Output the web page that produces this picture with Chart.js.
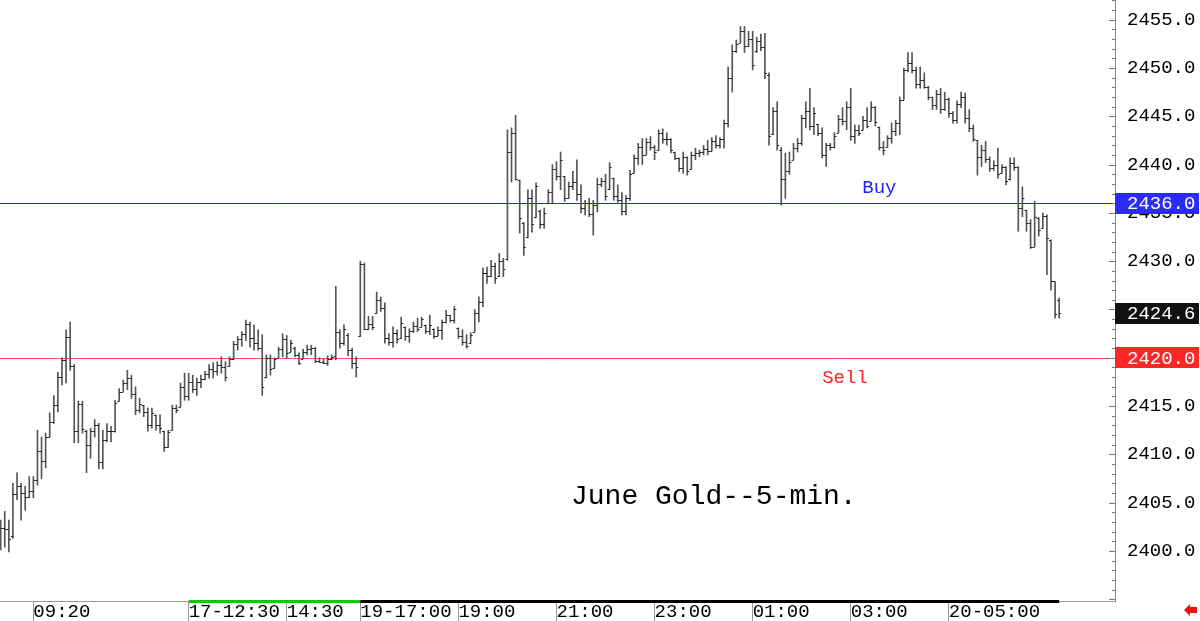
<!DOCTYPE html>
<html lang="en">
<head>
    <meta charset="UTF-8">
    <title>June Gold 5-min</title>
    <script src="https://cdn.jsdelivr.net/npm/chart.js"></script>
    <style>
        html, body {
            margin: 0;
            padding: 0;
            background-color: #fff;
        }

        #chart-container {
            width: 1200px;
            height: 621px;
        }
    </style>
</head>
<body>
    <div id="chart-container">
        <canvas id="gold-chart" width="1200" height="621"></canvas>
    </div>

    <script>
        // 5-minute OHLC bars, index 0 is the first bar on the left
        var highs = [
            2403.2, 2404.1, 2403.2, 2407.0, 2408.1, 2407.0, 2406.7, 2407.7, 2407.7, 2412.5,
            2411.8, 2412.2, 2414.3, 2416.1, 2418.5, 2420.0, 2422.9, 2423.7, 2419.3, 2415.5,
            2415.5, 2412.5, 2412.7, 2413.6, 2413.2, 2412.5, 2413.2, 2412.9, 2415.6, 2416.8,
            2417.7, 2418.7, 2418.2, 2417.0, 2415.8, 2415.1, 2414.8, 2414.8, 2414.1, 2414.1,
            2412.4, 2412.5, 2415.1, 2415.1, 2417.4, 2418.4, 2418.4, 2418.2, 2417.9, 2418.2,
            2418.6, 2419.3, 2419.5, 2419.6, 2420.1, 2419.6, 2420.1, 2421.7, 2422.2, 2422.7,
            2423.9, 2423.7, 2423.4, 2422.9, 2422.4, 2420.3, 2420.3, 2420.0, 2421.1, 2422.5,
            2422.3, 2421.8, 2421.1, 2420.5, 2420.9, 2421.3, 2421.3, 2421.1, 2420.0, 2419.9,
            2420.2, 2420.3, 2427.4, 2422.9, 2423.4, 2422.5, 2421.0, 2420.1, 2430.0, 2429.8,
            2424.3, 2424.3, 2426.8, 2426.3, 2425.7, 2422.5, 2423.2, 2422.9, 2424.2, 2423.2,
            2423.0, 2423.7, 2424.1, 2424.2, 2423.4, 2424.4, 2423.0, 2423.2, 2423.9, 2424.9,
            2424.4, 2425.3, 2423.1, 2422.9, 2422.4, 2422.6, 2425.0, 2426.3, 2429.3, 2429.4,
            2430.1, 2429.8, 2430.8, 2430.3, 2443.6, 2443.8, 2445.1, 2438.4, 2434.0, 2437.4,
            2437.4, 2438.1, 2435.3, 2435.5, 2437.4, 2440.0, 2440.3, 2441.3, 2438.8, 2438.2,
            2439.3, 2440.5, 2437.9, 2436.3, 2436.5, 2436.3, 2438.6, 2438.6, 2439.0, 2440.2,
            2438.6, 2437.9, 2437.1, 2436.8, 2439.4, 2441.0, 2442.2, 2442.7, 2442.7, 2442.9,
            2442.0, 2443.6, 2443.7, 2443.3, 2442.7, 2441.3, 2440.7, 2441.3, 2440.8, 2441.3,
            2441.7, 2441.5, 2442.0, 2442.5, 2442.8, 2443.0, 2442.8, 2444.6, 2450.1, 2452.4,
            2452.9, 2454.3, 2454.3, 2453.8, 2453.8, 2453.2, 2453.5, 2453.6, 2449.5, 2445.9,
            2446.5, 2441.8, 2441.2, 2441.3, 2442.2, 2442.7, 2445.1, 2446.5, 2447.9, 2445.9,
            2444.2, 2443.8, 2442.2, 2442.2, 2443.3, 2445.1, 2445.9, 2446.5, 2447.9, 2444.1,
            2444.1, 2445.0, 2445.9, 2446.5, 2446.0, 2443.9, 2442.4, 2443.0, 2444.3, 2444.6,
            2447.0, 2450.0, 2451.6, 2451.6, 2450.1, 2450.1, 2449.5, 2448.1, 2447.0, 2447.7,
            2447.9, 2447.5, 2446.9, 2445.5, 2446.6, 2447.5, 2447.4, 2445.7, 2444.1, 2442.5,
            2442.0, 2442.4, 2440.8, 2440.4, 2441.7, 2440.0, 2439.8, 2440.7, 2440.7, 2439.8,
            2437.7, 2435.3, 2434.3, 2436.2, 2434.5, 2435.0, 2434.8, 2432.2, 2427.9, 2426.2
        ];
        var lows = [
            2400.1, 2400.4, 2399.9, 2401.3, 2405.3, 2403.2, 2404.2, 2405.5, 2405.5, 2406.8,
            2407.5, 2408.6, 2411.8, 2413.2, 2414.4, 2417.2, 2417.4, 2418.7, 2411.2, 2411.2,
            2412.2, 2408.1, 2409.6, 2411.8, 2408.5, 2408.5, 2411.3, 2411.3, 2412.3, 2415.5,
            2416.5, 2416.7, 2415.8, 2414.1, 2414.3, 2413.9, 2412.4, 2412.7, 2412.5, 2412.2,
            2410.3, 2410.7, 2412.5, 2414.3, 2414.9, 2415.6, 2415.6, 2416.4, 2416.1, 2416.9,
            2417.7, 2417.9, 2417.9, 2418.2, 2418.4, 2417.6, 2419.1, 2419.8, 2420.8, 2421.2,
            2421.8, 2421.1, 2420.8, 2420.8, 2416.1, 2417.9, 2418.2, 2418.9, 2420.0, 2420.1,
            2420.0, 2420.6, 2420.1, 2419.3, 2419.9, 2420.3, 2420.3, 2419.5, 2419.5, 2419.4,
            2419.2, 2419.8, 2419.8, 2421.0, 2421.3, 2420.2, 2418.9, 2418.0, 2422.2, 2422.9,
            2422.9, 2422.9, 2424.6, 2424.8, 2421.5, 2421.3, 2421.1, 2421.5, 2422.0, 2421.8,
            2421.6, 2422.6, 2422.7, 2423.2, 2422.5, 2422.4, 2422.0, 2422.3, 2421.9, 2423.6,
            2423.7, 2423.6, 2422.0, 2421.3, 2421.0, 2421.5, 2422.7, 2423.7, 2425.3, 2427.7,
            2428.4, 2427.7, 2428.4, 2428.4, 2430.1, 2438.2, 2438.4, 2432.9, 2430.6, 2432.4,
            2433.0, 2434.5, 2433.4, 2433.4, 2436.0, 2436.0, 2438.4, 2437.4, 2436.2, 2436.5,
            2437.4, 2436.3, 2435.0, 2434.8, 2434.6, 2432.7, 2435.1, 2437.7, 2436.3, 2437.4,
            2436.3, 2436.1, 2434.8, 2434.8, 2436.3, 2439.1, 2440.0, 2440.0, 2441.0, 2441.5,
            2440.5, 2441.5, 2442.2, 2442.0, 2441.2, 2440.5, 2439.3, 2439.1, 2438.9, 2439.5,
            2440.5, 2440.8, 2441.0, 2441.0, 2441.4, 2441.7, 2441.7, 2441.7, 2443.9, 2447.5,
            2451.6, 2452.6, 2451.6, 2452.2, 2449.8, 2451.6, 2451.8, 2448.9, 2442.0, 2443.1,
            2441.5, 2435.8, 2436.5, 2439.0, 2440.5, 2441.3, 2442.0, 2443.8, 2443.6, 2443.1,
            2443.0, 2440.7, 2439.8, 2441.5, 2441.7, 2443.3, 2444.1, 2443.6, 2442.5, 2442.2,
            2443.0, 2443.6, 2443.8, 2444.5, 2444.0, 2441.5, 2441.0, 2441.8, 2442.2, 2443.0,
            2443.1, 2446.7, 2449.6, 2449.5, 2447.9, 2447.9, 2447.9, 2446.7, 2445.7, 2445.7,
            2445.3, 2445.6, 2444.9, 2444.3, 2444.3, 2445.9, 2444.3, 2443.4, 2442.4, 2438.9,
            2439.8, 2440.2, 2439.3, 2439.4, 2438.6, 2439.1, 2437.9, 2438.4, 2439.4, 2433.1,
            2434.6, 2433.1, 2431.3, 2431.5, 2432.6, 2433.4, 2428.6, 2427.0, 2424.1, 2424.1
        ];
        var opens = [
            2402.0, 2402.4, 2402.3, 2401.5, 2405.9, 2406.7, 2406.0, 2405.6, 2406.2, 2407.3,
            2410.4, 2409.3, 2411.8, 2413.4, 2415.1, 2418.0, 2419.8, 2422.2, 2419.2, 2412.4,
            2415.2, 2412.4, 2411.0, 2412.4, 2413.0, 2409.2, 2411.5, 2412.4, 2412.4, 2415.5,
            2416.5, 2417.4, 2417.9, 2416.2, 2414.6, 2415.1, 2414.4, 2413.0, 2414.1, 2413.0,
            2412.4, 2410.8, 2412.5, 2414.8, 2414.9, 2417.0, 2416.0, 2417.5, 2416.8, 2417.5,
            2417.8, 2418.3, 2418.8, 2418.6, 2419.3, 2419.0, 2419.2, 2419.9, 2421.4, 2421.9,
            2422.5, 2423.5, 2422.0, 2421.5, 2421.0, 2418.0, 2420.0, 2418.9, 2420.0, 2420.9,
            2421.9, 2420.6, 2421.0, 2420.3, 2419.9, 2420.6, 2420.9, 2421.0, 2419.7, 2419.6,
            2419.5, 2419.9, 2420.2, 2422.7, 2421.5, 2422.4, 2420.8, 2419.5, 2422.3, 2429.7,
            2423.0, 2423.5, 2424.6, 2426.0, 2425.2, 2422.0, 2421.6, 2422.6, 2422.0, 2423.2,
            2422.3, 2422.8, 2423.3, 2423.2, 2423.4, 2422.8, 2423.0, 2422.3, 2422.9, 2423.7,
            2424.4, 2423.9, 2423.1, 2422.3, 2421.6, 2421.5, 2422.7, 2424.6, 2425.8, 2428.8,
            2428.5, 2429.5, 2428.5, 2430.0, 2430.2, 2441.3, 2443.3, 2438.4, 2434.0, 2432.5,
            2436.5, 2434.6, 2435.2, 2433.8, 2436.0, 2437.2, 2439.5, 2438.8, 2438.8, 2436.5,
            2437.8, 2438.2, 2437.0, 2435.5, 2436.0, 2434.9, 2435.8, 2438.0, 2438.3, 2437.5,
            2438.6, 2436.8, 2436.3, 2435.2, 2436.5, 2439.1, 2440.7, 2441.8, 2441.0, 2442.3,
            2441.8, 2441.5, 2443.3, 2442.6, 2442.7, 2441.3, 2440.7, 2439.6, 2440.8, 2439.5,
            2441.0, 2441.2, 2441.3, 2441.6, 2441.4, 2442.4, 2442.0, 2442.6, 2444.3, 2449.0,
            2451.8, 2452.6, 2453.8, 2452.3, 2453.0, 2451.8, 2452.8, 2452.2, 2449.3, 2443.2,
            2445.5, 2441.5, 2438.5, 2439.3, 2440.5, 2441.7, 2442.2, 2444.8, 2445.5, 2444.0,
            2444.2, 2443.3, 2441.0, 2442.0, 2441.8, 2443.3, 2444.7, 2444.5, 2446.0, 2443.0,
            2443.6, 2443.6, 2444.6, 2444.5, 2446.0, 2443.9, 2441.8, 2441.8, 2442.8, 2443.5,
            2444.3, 2446.7, 2449.8, 2450.5, 2449.8, 2448.3, 2448.8, 2448.0, 2447.0, 2446.2,
            2447.3, 2445.8, 2446.8, 2445.3, 2444.6, 2446.3, 2447.0, 2444.8, 2443.8, 2442.5,
            2440.8, 2441.5, 2440.6, 2439.6, 2440.0, 2439.1, 2439.8, 2438.5, 2440.2, 2439.8,
            2435.5, 2435.3, 2434.0, 2431.5, 2434.5, 2433.4, 2434.7, 2432.2, 2427.9, 2426.0
        ];
        var closes = [
            2402.4, 2402.3, 2401.2, 2405.9, 2406.7, 2406.0, 2405.6, 2406.2, 2407.3, 2410.4,
            2409.3, 2411.8, 2413.4, 2415.1, 2418.0, 2419.8, 2422.2, 2419.2, 2412.4, 2415.2,
            2412.6, 2411.0, 2412.4, 2413.0, 2409.2, 2411.5, 2412.4, 2412.4, 2415.3, 2416.5,
            2417.4, 2417.9, 2416.2, 2414.6, 2415.2, 2414.4, 2413.0, 2414.3, 2413.0, 2412.7,
            2410.8, 2412.3, 2414.8, 2414.6, 2417.0, 2416.0, 2417.5, 2416.8, 2417.5, 2417.8,
            2418.3, 2418.8, 2418.6, 2419.3, 2419.0, 2418.0, 2419.9, 2421.4, 2421.9, 2422.5,
            2423.5, 2422.0, 2421.5, 2421.0, 2417.0, 2420.0, 2418.8, 2419.9, 2420.9, 2421.9,
            2420.5, 2421.5, 2420.3, 2419.5, 2420.6, 2420.9, 2421.0, 2419.7, 2419.6, 2419.5,
            2419.9, 2420.1, 2422.7, 2421.5, 2423.0, 2420.8, 2419.5, 2419.0, 2429.7, 2423.0,
            2423.5, 2423.2, 2426.0, 2425.2, 2422.0, 2421.6, 2422.6, 2421.9, 2423.6, 2422.3,
            2422.8, 2423.3, 2423.0, 2424.0, 2422.8, 2423.4, 2422.3, 2422.9, 2423.7, 2424.4,
            2423.9, 2425.0, 2422.3, 2421.6, 2421.2, 2422.4, 2424.6, 2425.8, 2428.8, 2428.5,
            2429.5, 2428.3, 2430.0, 2429.2, 2441.3, 2443.3, 2438.5, 2434.5, 2431.5, 2436.5,
            2433.8, 2437.8, 2433.8, 2435.0, 2437.2, 2439.5, 2438.8, 2440.5, 2436.5, 2437.8,
            2438.2, 2437.0, 2435.5, 2436.0, 2434.9, 2435.8, 2438.0, 2438.3, 2436.8, 2439.8,
            2436.8, 2436.3, 2435.2, 2436.5, 2439.0, 2440.7, 2441.8, 2441.0, 2442.3, 2441.8,
            2441.3, 2443.3, 2442.6, 2442.7, 2441.5, 2440.7, 2439.6, 2440.8, 2439.3, 2441.0,
            2441.2, 2441.3, 2441.6, 2441.4, 2442.4, 2442.0, 2442.6, 2444.3, 2449.0, 2451.8,
            2452.5, 2453.8, 2452.3, 2453.0, 2450.3, 2452.8, 2452.2, 2449.5, 2443.0, 2445.5,
            2442.0, 2438.5, 2439.3, 2440.3, 2441.7, 2442.2, 2444.8, 2445.5, 2444.0, 2445.3,
            2443.3, 2441.0, 2442.0, 2441.8, 2443.0, 2444.7, 2444.5, 2446.0, 2443.0, 2443.6,
            2443.3, 2444.6, 2444.0, 2446.0, 2444.4, 2441.8, 2441.5, 2442.8, 2443.5, 2444.3,
            2446.7, 2449.8, 2450.5, 2449.8, 2448.3, 2448.8, 2448.0, 2447.0, 2446.2, 2447.3,
            2445.8, 2446.8, 2445.3, 2444.6, 2446.3, 2447.0, 2444.8, 2443.8, 2442.7, 2440.8,
            2441.5, 2440.6, 2439.6, 2440.0, 2439.0, 2439.8, 2438.3, 2440.2, 2439.8, 2435.5,
            2436.5, 2434.0, 2431.5, 2434.6, 2433.2, 2434.7, 2432.4, 2427.9, 2424.5, 2424.6
        ];

        // time labels on the bottom axis and the bar they sit on
        var tickIdx = [8, 46, 70, 88, 112, 136, 160, 184, 208, 232];
        var tickText = ['09:20', '17-12:30', '14:30', '19-17:00', '19:00', '21:00', '23:00', '01:00', '03:00', '20-05:00'];

        // session strip under the bars: [first bar, last bar]
        var sessionGreen = [46, 88];
        var sessionBlack = [88, 259];

        var buyLevel = 2436.0;
        var sellLevel = 2420.0;
        var lastPrice = closes[closes.length - 1];

        var monoFont = "'Liberation Mono', 'DejaVu Sans Mono', monospace";

        var notes = [
            { text: 'Buy', x: 215.0, y: 2437.6, color: '#2222ff', size: 19 },
            { text: 'Sell', x: 206.6, y: 2417.9, color: '#ff2222', size: 19 },
            { text: 'June Gold--5-min.', x: 174.5, y: 2405.6, color: '#000', size: 28 }
        ];

        var rangeData = highs.map(function (h, i) {
            return { x: i, y: [lows[i], h] };
        });

        // horizontal buy / sell lines behind the bars
        var levelLines = {
            id: 'levelLines',
            beforeDatasetsDraw: function (chart) {
                var ctx = chart.ctx, area = chart.chartArea, y = chart.scales.y;
                ctx.save();
                ctx.lineWidth = 1;
                [[buyLevel, '#1f1fff'], [sellLevel, '#ff5050']].forEach(function (l) {
                    var py = Math.round(y.getPixelForValue(l[0])) + 0.5;
                    ctx.strokeStyle = l[1];
                    ctx.beginPath();
                    ctx.moveTo(area.left, py);
                    ctx.lineTo(area.right, py);
                    ctx.stroke();
                });
                ctx.restore();
            }
        };

        // open tick on the left, close tick on the right of every bar
        var ohlcTicks = {
            id: 'ohlcTicks',
            afterDatasetsDraw: function (chart) {
                var ctx = chart.ctx, x = chart.scales.x, y = chart.scales.y;
                ctx.save();
                ctx.strokeStyle = '#222';
                ctx.lineWidth = 1;
                ctx.beginPath();
                for (var i = 0; i < opens.length; i++) {
                    var px = x.getPixelForValue(i);
                    var yo = Math.round(y.getPixelForValue(opens[i])) + 0.5;
                    var yc = Math.round(y.getPixelForValue(closes[i])) + 0.5;
                    ctx.moveTo(px - 2, yo);
                    ctx.lineTo(px, yo);
                    ctx.moveTo(px, yc);
                    ctx.lineTo(px + 2, yc);
                }
                ctx.stroke();
                ctx.restore();
            }
        };

        var extras = {
            id: 'extras',
            afterDraw: function (chart) {
                var ctx = chart.ctx, area = chart.chartArea;
                var x = chart.scales.x, y = chart.scales.y;
                ctx.save();

                // small tick marks on the inside of the price axis
                ctx.strokeStyle = '#777';
                ctx.lineWidth = 1;
                ctx.beginPath();
                y.ticks.forEach(function (t) {
                    var py = Math.round(y.getPixelForValue(t.value)) + 0.5;
                    var len = (Math.round(t.value) % 5 === 0) ? 6 : 3;
                    ctx.moveTo(area.right - len, py);
                    ctx.lineTo(area.right, py);
                });
                ctx.stroke();

                // session strip on the time axis
                ctx.fillStyle = '#00cc00';
                var g0 = x.getPixelForValue(sessionGreen[0]), g1 = x.getPixelForValue(sessionGreen[1]);
                ctx.fillRect(g0, area.bottom - 1, g1 - g0, 3);
                ctx.fillStyle = '#000';
                var b0 = x.getPixelForValue(sessionBlack[0]), b1 = x.getPixelForValue(sessionBlack[1]);
                ctx.fillRect(b0, area.bottom - 1, b1 - b0, 3);

                // text notes on the chart
                ctx.textAlign = 'center';
                ctx.textBaseline = 'middle';
                notes.forEach(function (n) {
                    ctx.font = n.size + 'px ' + monoFont;
                    ctx.fillStyle = n.color;
                    ctx.fillText(n.text, x.getPixelForValue(n.x), y.getPixelForValue(n.y));
                });

                // price boxes on the right axis
                ctx.font = '19px ' + monoFont;
                ctx.textAlign = 'left';
                [[buyLevel, '#2b2bff'], [lastPrice, '#111'], [sellLevel, '#ff2626']].forEach(function (b) {
                    var py = y.getPixelForValue(b[0]);
                    ctx.fillStyle = b[1];
                    ctx.fillRect(area.right, Math.round(py - 10.5), chart.width - area.right - 1, 21);
                    ctx.fillStyle = '#fff';
                    ctx.fillText(b[0].toFixed(1), area.right + 12, py + 1);
                });

                // red arrow in the corner
                var ax = chart.width - 16, ay = chart.height - 11;
                ctx.fillStyle = '#ee1111';
                ctx.beginPath();
                ctx.moveTo(ax, ay);
                ctx.lineTo(ax + 6, ay - 6);
                ctx.lineTo(ax + 6, ay - 3);
                ctx.lineTo(ax + 13, ay - 3);
                ctx.lineTo(ax + 13, ay + 3);
                ctx.lineTo(ax + 6, ay + 3);
                ctx.lineTo(ax + 6, ay + 6);
                ctx.closePath();
                ctx.fill();

                ctx.restore();
            }
        };

        var ctx = document.getElementById('gold-chart').getContext('2d');
        var goldChart = new Chart(ctx, {
            type: 'bar',
            data: {
                datasets: [{
                    data: rangeData,
                    backgroundColor: '#555',
                    borderWidth: 0,
                    barThickness: 1
                }]
            },
            options: {
                responsive: false,
                animation: false,
                layout: { padding: 0 },
                plugins: {
                    legend: { display: false },
                    tooltip: { enabled: false }
                },
                scales: {
                    x: {
                        type: 'linear',
                        min: -0.164,
                        max: 272.66,
                        offset: false,
                        grid: { drawOnChartArea: false, offset: false, tickLength: 20, color: '#999' },
                        border: { color: '#999' },
                        afterBuildTicks: function (axis) {
                            axis.ticks = tickIdx.map(function (v) { return { value: v }; });
                        },
                        afterFit: function (axis) {
                            axis.height = 20;
                            axis.paddingLeft = 0;
                            axis.paddingRight = 0;
                        },
                        ticks: {
                            autoSkip: false,
                            maxRotation: 0,
                            align: 'start',
                            padding: -20,
                            color: '#000',
                            font: { family: monoFont, size: 19 },
                            callback: function (value, index) {
                                return tickText[index];
                            }
                        }
                    },
                    y: {
                        position: 'right',
                        min: 2394.82,
                        max: 2457.04,
                        grid: { drawOnChartArea: false, drawTicks: false },
                        border: { color: '#888' },
                        afterFit: function (axis) {
                            axis.width = 85;
                            axis.paddingTop = 0;
                            axis.paddingBottom = 0;
                        },
                        ticks: {
                            stepSize: 1,
                            autoSkip: false,
                            maxTicksLimit: 100,
                            includeBounds: false,
                            padding: 12,
                            color: '#000',
                            font: { family: monoFont, size: 19 },
                            callback: function (value) {
                                var v = Math.round(value);
                                return (v % 5 === 0 && v >= 2400) ? value.toFixed(1) : '';
                            }
                        }
                    }
                }
            },
            plugins: [levelLines, ohlcTicks, extras]
        });
    </script>
</body>
</html>
